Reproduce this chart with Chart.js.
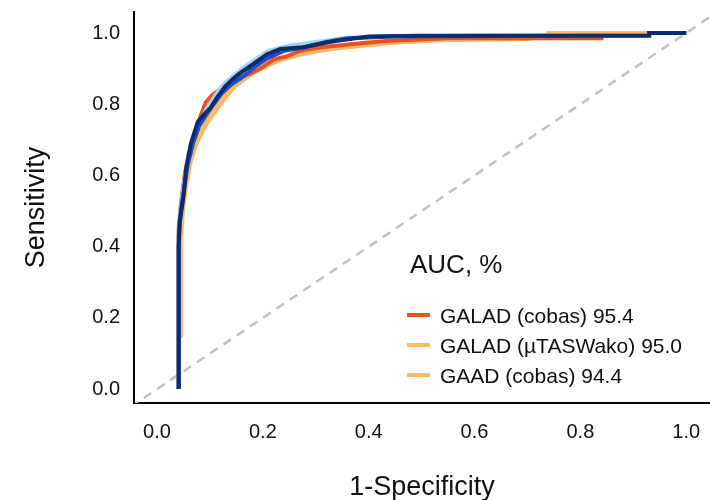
<!DOCTYPE html>
<html>
<head>
<meta charset="utf-8">
<script src="https://cdn.jsdelivr.net/npm/chart.js@4"></script>
<style>
  body { margin: 0; background: #fff; }
  #wrap { position: relative; width: 710px; height: 500px; font-family: "Liberation Sans", Arial, sans-serif; }
  #legend { position: absolute; left: 0; top: 0; color: #111; }
  #legend .title { position: absolute; left: 410px; top: 249px; font-size: 26px; white-space: nowrap; }
  #legend .item { position: absolute; left: 407px; font-size: 21px; white-space: nowrap; line-height: 24px; }
  #legend .item span.sw { display: inline-block; width: 23px; height: 4px; vertical-align: middle; margin-right: 10px; position: relative; top: -2px; }
</style>
</head>
<body>
<div id="wrap">
  <canvas id="roc" width="710" height="500"></canvas>
  <div id="legend"></div>
</div>
<script>
// ROC curves (1-specificity, sensitivity)
const galadCobasFpr = [0.041, 0.041, 0.045, 0.052, 0.060, 0.070, 0.082, 0.092, 0.104, 0.118, 0.135, 0.155, 0.175, 0.195, 0.220, 0.246, 0.270, 0.310, 0.390, 0.440, 0.550, 0.840, 0.840, 0.930, 0.930, 1.000];
const galadCobasTpr = [0.000, 0.450, 0.520, 0.600, 0.660, 0.710, 0.765, 0.805, 0.825, 0.840, 0.860, 0.875, 0.885, 0.900, 0.925, 0.935, 0.950, 0.960, 0.972, 0.978, 0.985, 0.985, 0.993, 0.993, 1.000, 1.000];

const galadWakoFpr = [0.041, 0.041, 0.045, 0.045, 0.049, 0.056, 0.064, 0.075, 0.088, 0.100, 0.115, 0.130, 0.147, 0.165, 0.185, 0.210, 0.240, 0.275, 0.310, 0.345, 0.390, 0.450, 0.530, 0.700, 0.740, 0.740, 1.000];
const galadWakoTpr = [0.000, 0.150, 0.150, 0.420, 0.500, 0.580, 0.640, 0.690, 0.730, 0.760, 0.790, 0.820, 0.850, 0.870, 0.890, 0.910, 0.930, 0.945, 0.952, 0.958, 0.965, 0.973, 0.980, 0.983, 0.990, 1.000, 1.000];

const gaadCobasFpr = [0.041, 0.041, 0.045, 0.052, 0.060, 0.072, 0.085, 0.098, 0.112, 0.128, 0.146, 0.168, 0.195, 0.225, 0.260, 0.300, 0.340, 0.390, 0.460, 0.550, 0.700, 0.750, 0.900, 0.930, 1.000];
const gaadCobasTpr = [0.000, 0.400, 0.480, 0.560, 0.630, 0.690, 0.730, 0.765, 0.795, 0.825, 0.855, 0.880, 0.900, 0.920, 0.935, 0.948, 0.957, 0.965, 0.975, 0.982, 0.985, 0.992, 0.995, 1.000, 1.000];

const lightBlueFpr = [0.041, 0.041, 0.044, 0.051, 0.058, 0.068, 0.080, 0.095, 0.110, 0.125, 0.140, 0.160, 0.185, 0.210, 0.250, 0.300, 0.350, 0.420, 0.600, 0.930, 0.930, 1.000];
const lightBlueTpr = [0.000, 0.420, 0.500, 0.580, 0.640, 0.700, 0.750, 0.790, 0.825, 0.855, 0.875, 0.900, 0.925, 0.950, 0.965, 0.975, 0.985, 0.990, 0.993, 0.995, 1.000, 1.000];

const midBlueFpr = [0.041, 0.041, 0.045, 0.052, 0.058, 0.068, 0.080, 0.093, 0.107, 0.122, 0.140, 0.160, 0.185, 0.210, 0.240, 0.280, 0.320, 0.360, 0.450, 0.930, 0.930, 1.000];
const midBlueTpr = [0.000, 0.430, 0.500, 0.570, 0.630, 0.690, 0.740, 0.770, 0.800, 0.830, 0.855, 0.875, 0.905, 0.930, 0.950, 0.960, 0.975, 0.985, 0.990, 0.993, 1.000, 1.000];

const navyFpr = [0.041, 0.041, 0.043, 0.050, 0.055, 0.064, 0.077, 0.088, 0.101, 0.114, 0.129, 0.143, 0.155, 0.182, 0.208, 0.233, 0.276, 0.308, 0.340, 0.400, 0.500, 0.930, 0.930, 1.000];
const navyTpr = [0.000, 0.400, 0.470, 0.540, 0.620, 0.690, 0.750, 0.770, 0.790, 0.820, 0.850, 0.870, 0.885, 0.913, 0.940, 0.955, 0.960, 0.970, 0.978, 0.990, 0.992, 0.993, 1.000, 1.000];

const refLine = [-0.05, 1.05];

const xTicks = [0.0, 0.2, 0.4, 0.6, 0.8, 1.0];
const yTicks = [0.0, 0.2, 0.4, 0.6, 0.8, 1.0];

const legendTitle = 'AUC, %';
const legendLabels = ['GALAD (cobas) 95.4', 'GALAD (\u00b5TASWako) 95.0', 'GAAD (cobas) 94.4'];
const legendColors = ['#f04e1a', '#fdb863', '#fdb863'];

function toPoints(xs, ys) {
    return xs.map((x, i) => ({ x: x, y: ys[i] }));
}

function curve(label, xs, ys, color, order) {
    return {
        label: label,
        data: toPoints(xs, ys),
        borderColor: color,
        borderWidth: 4,
        pointRadius: 0,
        tension: 0,
        fill: false,
        order: order
    };
}

// drop the label overhang padding chart.js adds, so the plot box matches
function noOverhang(scale) {
    scale.paddingTop = 0;
    scale.paddingBottom = 0;
    scale.paddingLeft = 0;
    scale.paddingRight = 0;
}

const font = 'Liberation Sans, Arial, sans-serif';

const ctx = document.getElementById('roc').getContext('2d');
new Chart(ctx, {
    type: 'line',
    data: {
        datasets: [
            curve('navy', navyFpr, navyTpr, '#0a2d6e', 0),
            curve('mid blue', midBlueFpr, midBlueTpr, '#1f50cc', 1),
            curve('light blue', lightBlueFpr, lightBlueTpr, '#a9d4ef', 2),
            curve(legendLabels[0], galadCobasFpr, galadCobasTpr, legendColors[0], 3),
            curve(legendLabels[1], galadWakoFpr, galadWakoTpr, legendColors[1], 4),
            curve(legendLabels[2], gaadCobasFpr, gaadCobasTpr, '#fdbb6e', 5),
            {
                label: 'reference',
                data: toPoints(refLine, refLine),
                borderColor: '#c0c0c0',
                borderWidth: 2.5,
                borderDash: [9, 7],
                pointRadius: 0,
                order: 6
            }
        ]
    },
    options: {
        responsive: false,
        animation: false,
        layout: { padding: { top: 12, left: 0, right: 0, bottom: 0 } },
        plugins: {
            legend: { display: false },
            tooltip: { enabled: false }
        },
        scales: {
            x: {
                type: 'linear',
                min: -0.0435,
                max: 1.045,
                grid: { display: false, drawTicks: false },
                border: { display: true, color: '#000', width: 2 },
                afterBuildTicks: scale => { scale.ticks = xTicks.map(v => ({ value: v })); },
                afterFit: scale => { scale.height = 97; noOverhang(scale); },
                ticks: {
                    padding: 17,
                    color: '#111',
                    font: { family: font, size: 20 },
                    callback: v => v.toFixed(1)
                },
                title: {
                    display: true,
                    text: '1-Specificity',
                    color: '#111',
                    font: { family: font, size: 27, lineHeight: 0.9 },
                    padding: { top: 0, bottom: 0 }
                }
            },
            y: {
                type: 'linear',
                min: -0.039,
                max: 1.059,
                grid: { display: false, drawTicks: false },
                border: { display: true, color: '#000', width: 2 },
                afterBuildTicks: scale => { scale.ticks = yTicks.map(v => ({ value: v })); },
                afterFit: scale => { scale.width = 134; noOverhang(scale); },
                ticks: {
                    padding: 14,
                    color: '#111',
                    font: { family: font, size: 20 },
                    callback: v => v.toFixed(1)
                },
                title: {
                    display: true,
                    text: 'Sensitivity',
                    color: '#111',
                    font: { family: font, size: 27 },
                    padding: { top: 20, bottom: 0 }
                }
            }
        }
    }
});

// legend drawn as html text
const legend = document.getElementById('legend');
const t = document.createElement('div');
t.className = 'title';
t.textContent = legendTitle;
legend.appendChild(t);
const itemTops = [304, 334, 364];
legendLabels.forEach((lab, i) => {
    const d = document.createElement('div');
    d.className = 'item';
    d.style.top = itemTops[i] + 'px';
    const sw = document.createElement('span');
    sw.className = 'sw';
    sw.style.background = legendColors[i];
    d.appendChild(sw);
    d.appendChild(document.createTextNode(lab));
    legend.appendChild(d);
});
</script>
</body>
</html>
